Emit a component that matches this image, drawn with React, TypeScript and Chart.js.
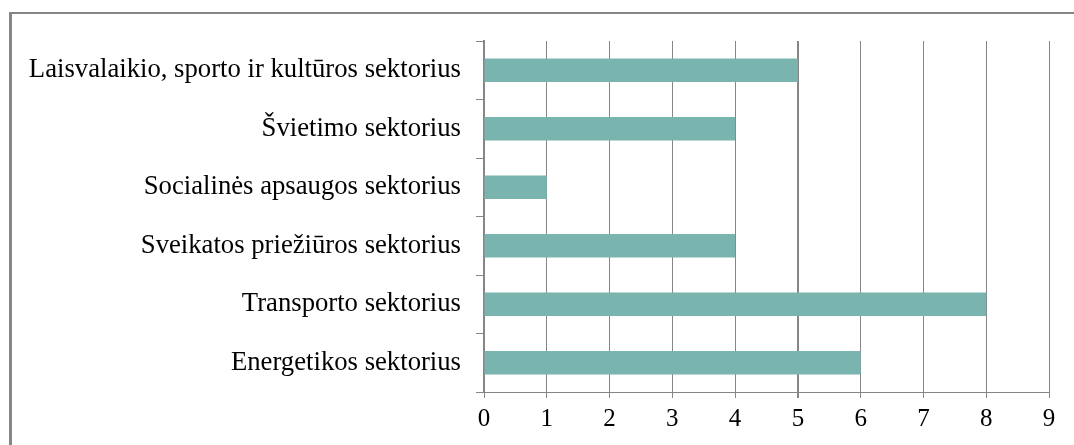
import React, { useEffect, useRef } from "react";
import { Chart, registerables } from "chart.js";

Chart.register(...registerables);

const categories = [
  "Laisvalaikio, sporto ir kultūros sektorius",
  "Švietimo sektorius",
  "Socialinės apsaugos sektorius",
  "Sveikatos priežiūros sektorius",
  "Transporto sektorius",
  "Energetikos sektorius",
];
const values = [5, 4, 1, 4, 8, 6];
const xTicks = [0, 1, 2, 3, 4, 5, 6, 7, 8, 9];

const GRAY = "#868686";
const BAR = "#79B5AE";
const FONT = "'Liberation Serif', 'Times New Roman', serif";

const frame = {
  id: "frame",
  beforeDraw(chart: any) {
    const ctx = chart.ctx;
    ctx.save();
    ctx.fillStyle = "#ffffff";
    ctx.fillRect(0, 0, chart.width, chart.height);
    ctx.fillStyle = GRAY;
    ctx.fillRect(9, 12, 3, chart.height - 12);
    ctx.fillRect(9, 12, chart.width - 9, 2);
    ctx.restore();
  },
};

export default function App() {
  const ref = useRef<HTMLCanvasElement | null>(null);
  useEffect(() => {
    if (!ref.current) return;
    const chart = new Chart(ref.current, {
      type: "bar",
      data: {
        labels: categories,
        datasets: [
          {
            data: values,
            backgroundColor: BAR,
            borderWidth: 0,
            barPercentage: 0.4,
            categoryPercentage: 1,
          },
        ],
      },
      options: {
        indexAxis: "y",
        animation: false,
        responsive: false,
        devicePixelRatio: 1,
        layout: { padding: { top: 41, right: 25, left: 0, bottom: 0 } },
        plugins: {
          legend: { display: false },
          tooltip: { enabled: false },
        },
        scales: {
          x: {
            type: "linear",
            min: 0,
            max: 9,
            afterBuildTicks: (scale: any) => {
              scale.ticks = xTicks.map((v) => ({ value: v }));
            },
            afterFit: (scale: any) => {
              scale.height = 53;
            },
            ticks: {
              stepSize: 1,
              color: "#000",
              font: { family: FONT, size: 25 },
              padding: 6,
            },
            grid: {
              color: GRAY,
              lineWidth: (ctx: any) => (ctx.tick && ctx.tick.value === 5 ? 2 : 1),
              tickLength: 6,
              drawTicks: true,
            },
            border: { display: true, color: GRAY, width: 1 },
          },
          y: {
            type: "category",
            afterFit: (scale: any) => {
              scale.width = 484;
            },
            ticks: {
              color: "#000",
              font: { family: FONT, size: 26.7 },
              padding: 15,
            },
            grid: {
              drawOnChartArea: false,
              drawTicks: true,
              tickLength: 8,
              color: GRAY,
              offset: true,
            },
            border: { display: true, color: GRAY, width: 2 },
          },
        },
      },
      plugins: [frame],
    });
    return () => chart.destroy();
  }, []);
  return (
    <canvas
      ref={ref}
      width={1074}
      height={445}
      style={{ position: "absolute", left: 0, top: 0, display: "block", width: 1074, height: 445 }}
    />
  );
}
